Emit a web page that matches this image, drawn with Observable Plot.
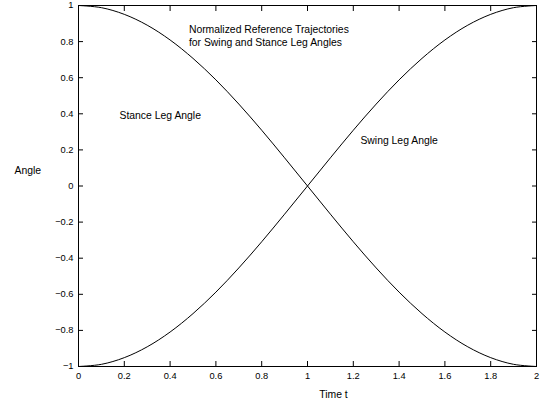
<!DOCTYPE html>
<html>
<head>
<meta charset="utf-8">
<script src="https://cdn.jsdelivr.net/npm/d3@7"></script>
<script src="https://cdn.jsdelivr.net/npm/@observablehq/plot@0.6"></script>
<style>
  html, body { margin: 0; padding: 0; background: #fff; }
  svg { display: block; }
</style>
</head>
<body>
<div id="chart"></div>
<script>
// Time samples (s)
const time = [0, 0.1, 0.2, 0.3, 0.4, 0.5, 0.6, 0.7, 0.8, 0.9, 1.0,
              1.1, 1.2, 1.3, 1.4, 1.5, 1.6, 1.7, 1.8, 1.9, 2.0];
// Stance leg angle (normalized)
const stanceAngle = [1, 0.988, 0.951, 0.891, 0.809, 0.707, 0.588, 0.454, 0.309, 0.156, 0,
                     -0.156, -0.309, -0.454, -0.588, -0.707, -0.809, -0.891, -0.951, -0.988, -1];
// Swing leg angle (normalized)
const swingAngle = [-1, -0.988, -0.951, -0.891, -0.809, -0.707, -0.588, -0.454, -0.309, -0.156, 0,
                    0.156, 0.309, 0.454, 0.588, 0.707, 0.809, 0.891, 0.951, 0.988, 1];

const xTicks = [0, 0.2, 0.4, 0.6, 0.8, 1, 1.2, 1.4, 1.6, 1.8, 2];
const yTicks = [-1, -0.8, -0.6, -0.4, -0.2, 0, 0.2, 0.4, 0.6, 0.8, 1];

// Annotations (text, anchor point in data units)
const annotationText = ["Normalized Reference Trajectories\nfor Swing and Stance Leg Angles", "Stance Leg Angle", "Swing Leg Angle"];
const annotationT = [0.482, 0.179, 1.231];
const annotationAngle = [0.833, 0.396, 0.253];

const xLabel = "Time t";
const yLabel = "Angle";

const stance = time.map((t, i) => ({t, v: stanceAngle[i]}));
const swing = time.map((t, i) => ({t, v: swingAngle[i]}));
const annotations = annotationText.map((text, i) => ({text, t: annotationT[i], v: annotationAngle[i]}));

const fmt = d => (d < 0 ? "\u2212" : "") + d3.format("~g")(Math.abs(d));
const FONT = "'Liberation Sans', Arial, Helvetica, sans-serif";

const chart = Plot.plot({
  width: 544,
  height: 407,
  marginLeft: 78,
  marginRight: 8,
  marginTop: 5,
  marginBottom: 41,
  style: {fontFamily: FONT, fontSize: "9.3px", color: "#000", background: "#fff", overflow: "visible"},
  x: {domain: [0, 2], ticks: xTicks},
  y: {domain: [-1, 1], ticks: yTicks},
  marks: [
    Plot.frame({stroke: "#000", strokeWidth: 1}),
    Plot.axisX(xTicks, {anchor: "bottom", tickSize: -5, tickPadding: 11, tickFormat: fmt, label: null, fontSize: 9.3}),
    Plot.axisX(xTicks, {anchor: "top", tickSize: -5, tickFormat: null, text: null, label: null}),
    Plot.axisY(yTicks, {anchor: "left", tickSize: -5, tickPadding: 10, tickFormat: fmt, label: null, fontSize: 9.3}),
    Plot.axisY(yTicks, {anchor: "right", tickSize: -5, tickFormat: null, text: null, label: null}),
    Plot.line(stance, {x: "t", y: "v", curve: "catmull-rom", stroke: "#000", strokeWidth: 1}),
    Plot.line(swing, {x: "t", y: "v", curve: "catmull-rom", stroke: "#000", strokeWidth: 1}),
    Plot.text(annotations, {x: "t", y: "v", text: "text", textAnchor: "start", fontSize: 10.4, lineHeight: 1.22, fill: "#000"}),
    Plot.text([yLabel], {text: d => d, frameAnchor: "left", dx: -64, dy: -15, textAnchor: "start", fontSize: 10.4, fill: "#000"}),
    Plot.text([xLabel], {text: d => d, frameAnchor: "bottom", dx: 26, dy: 31, fontSize: 10.4, fill: "#000"})
  ]
});
document.getElementById("chart").appendChild(chart);
</script>
</body>
</html>
